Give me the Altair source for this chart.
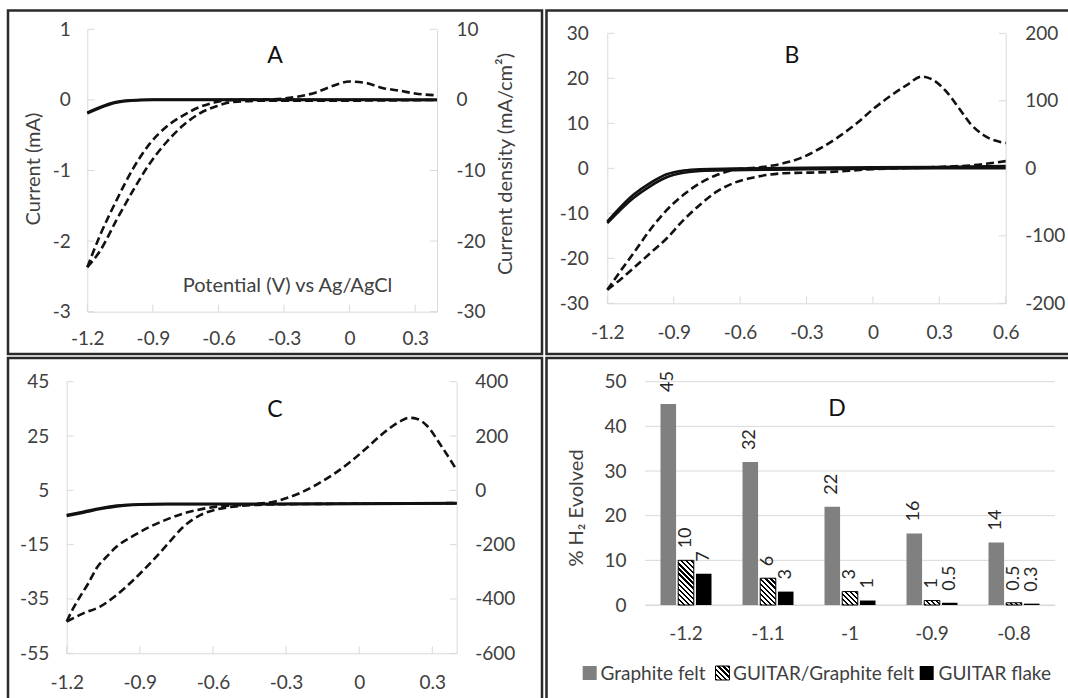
import altair as alt
import pandas as pd

W, H = 1068, 698
FONT = "Lato"
INK = "#111111"
TXT = "#404040"
AXC = "#d9d9d9"
BORDER = "#2a2a2a"
LW = 2.6
DASH = [8, 4]

# ---------------- Panel A (potential V, current mA) ----------------
A_solid_V = [-1.2, -1.14, -1.07, -1.0, -0.9, -0.6, -0.3, 0.0, 0.4]
A_solid_fwd_I = [-0.19, -0.11, -0.04, -0.01, 0.0, 0.0, 0.0, 0.0, 0.0]
A_solid_rev_I = [-0.18, -0.1, -0.03, -0.005, 0.005, 0.005, 0.005, 0.005, 0.0]
A_dash_fwd_V = [-1.2, -1.142, -1.066, -0.99, -0.914, -0.838, -0.761, -0.685, -0.609, -0.533,
                -0.4, -0.3, -0.15, -0.075, 0.0, 0.075, 0.15, 0.23, 0.3, 0.4]
A_dash_fwd_I = [-2.37, -1.92, -1.42, -0.97, -0.62, -0.38, -0.22, -0.1, -0.03, 0.0,
                0.005, 0.02, 0.11, 0.2, 0.26, 0.24, 0.17, 0.13, 0.09, 0.065]
A_dash_rev_V = [-1.2, -1.142, -1.066, -0.99, -0.914, -0.838, -0.761, -0.685, -0.609, -0.533,
                -0.381, 0.0, 0.4]
A_dash_rev_I = [-2.37, -2.14, -1.7, -1.28, -0.9, -0.6, -0.36, -0.19, -0.09, -0.03,
                -0.01, -0.01, 0.0]
A_xticks = [-1.2, -0.9, -0.6, -0.3, 0, 0.3]
A_yticks = [1, 0, -1, -2, -3]
A_y2ticks = [10, 0, -10, -20, -30]

# ---------------- Panel B ----------------
B_solid_V = [-1.2, -1.082, -1.007, -0.932, -0.856, -0.781, -0.631, -0.3, 0.0, 0.3, 0.6]
B_solid_fwd_I = [-11.85, -5.9, -3.3, -1.33, -0.5, -0.2, -0.07, 0.1, 0.2, 0.3, 0.5]
B_solid_rev_I = [-12.2, -6.6, -4.0, -2.0, -1.0, -0.6, -0.4, -0.2, -0.1, 0.0, 0.0]
B_dash_fwd_V = [-1.2, -1.143, -1.082, -1.007, -0.932, -0.856, -0.781, -0.706, -0.631, -0.48,
                -0.405, -0.33, -0.239, -0.149, -0.073, 0.002, 0.077, 0.153, 0.22, 0.273,
                0.333, 0.394, 0.439, 0.499, 0.6]
B_dash_fwd_I = [-27, -23, -18.9, -13.7, -9.3, -5.9, -3.3, -1.5, -0.4, 0.4,
                1.1, 2.2, 4.4, 7.2, 10.0, 13.2, 16.0, 18.5, 20.4, 19.6,
                17.0, 13.0, 10.0, 7.4, 5.6]
B_dash_rev_V = [-1.2, -1.143, -1.082, -1.007, -0.932, -0.856, -0.781, -0.706, -0.631, -0.555,
                -0.48, -0.405, -0.33, -0.239, 0.0, 0.3, 0.454, 0.6]
B_dash_rev_I = [-27, -24.8, -22.2, -18.9, -15.6, -11.5, -8.1, -5.2, -3.3, -2.2,
                -1.5, -1.1, -1.0, -0.9, -0.2, 0.3, 0.7, 1.6]
B_xticks = [-1.2, -0.9, -0.6, -0.3, 0, 0.3, 0.6]
B_yticks = [30, 20, 10, 0, -10, -20, -30]
B_y2ticks = [200, 100, 0, -100, -200]

# ---------------- Panel C ----------------
C_solid_V = [-1.2, -1.132, -1.063, -0.995, -0.9, -0.79, -0.4, 0.0, 0.4]
C_solid_fwd_I = [-4.1, -2.9, -1.6, -0.6, -0.1, 0.0, 0.0, 0.1, 0.3]
C_solid_rev_I = [-4.4, -3.2, -1.9, -0.9, -0.3, -0.1, -0.1, 0.0, 0.2]
C_dash_fwd_V = [-1.2, -1.173, -1.145, -1.111, -1.077, -1.036, -0.995, -0.926, -0.858, -0.789,
                -0.721, -0.652, -0.584, -0.447, -0.351, -0.31, -0.241, -0.173, -0.104, -0.036,
                0.033, 0.101, 0.17, 0.204, 0.238, 0.279, 0.334, 0.4]
C_dash_fwd_I = [-43.3, -38.4, -34.1, -29.2, -23.6, -19.4, -15.7, -11.7, -8.4, -5.7,
                -3.5, -2.0, -1.0, -0.2, 0.8, 1.8, 4.1, 7.2, 11.0, 15.5,
                20.8, 26.2, 30.5, 31.7, 31.3, 28.7, 21.7, 12.5]
C_dash_rev_V = [-1.2, -1.132, -1.063, -0.995, -0.926, -0.858, -0.789, -0.721, -0.652, -0.584,
                -0.515, -0.378, 0.0, 0.4]
C_dash_rev_I = [-43.3, -40.3, -37.8, -33.5, -28.0, -21.9, -15.1, -8.4, -4.1, -2.0,
                -1.0, -0.2, 0.1, 0.3]
C_xticks = [-1.2, -0.9, -0.6, -0.3, 0, 0.3]
C_yticks = [45, 25, 5, -15, -35, -55]
C_y2ticks = [400, 200, 0, -200, -400, -600]

# ---------------- Panel D ----------------
D_cats = ["-1.2", "-1.1", "-1", "-0.9", "-0.8"]
D_series = ["Graphite felt", "GUITAR/Graphite felt", "GUITAR flake"]
D_graphite = [45, 32, 22, 16, 14]
D_guitar_gf = [10, 6, 3, 1, 0.5]
D_flake = [7, 3, 1, 0.5, 0.3]
D_yticks = [0, 10, 20, 30, 40, 50]

one = pd.DataFrame({"d": [0]})


def lin(dom, rng):
    return alt.Scale(domain=dom, range=rng, nice=False, zero=False)


def num_axis(orient, offset, values, pad, **kw):
    align = {"left": "right", "right": "left", "bottom": "center"}[orient]
    opts = dict(orient=orient, offset=offset, values=values,
                labelExpr="datum.value + ''", labelPadding=pad, labelAlign=align,
                labelBaseline="middle", labelFlush=False, labelOverlap=False,
                ticks=False, grid=False, domain=True, domainColor=AXC, domainWidth=1,
                labelAngle=0, title=None)
    opts.update(kw)
    return alt.Axis(**opts)


def cv_frame(branches):
    rows = []
    for name, style, V, I in branches:
        for v, i in zip(V, I):
            rows.append({"V": v, "I": i, "b": name, "s": style})
    return pd.DataFrame(rows)


def cv_layers(frame, geo, xdom, ydom, y2dom, xt, yt, y2t, pads, letter, lxy, titles):
    x0, x1, yb, ytop = geo
    xs = lin(xdom, [x0, x1])
    ys = lin(ydom, [yb, ytop])
    ys2 = lin(y2dom, [yb, ytop])
    out = []
    out.append(alt.Chart(pd.DataFrame({"t": xt})).mark_rule(color=AXC, strokeWidth=1).encode(
        x=alt.X("t:Q", scale=xs,
                axis=num_axis("bottom", yb - H, xt, pads[0], **titles.get("bottom", {}))),
        y=alt.value(yb), y2=alt.value(yb - 7)))
    out.append(alt.Chart(pd.DataFrame({"t": yt})).mark_rule(color=AXC, strokeWidth=1).encode(
        y=alt.Y("t:Q", scale=ys,
                axis=num_axis("left", -x0, yt, pads[1], **titles.get("left", {}))),
        x=alt.value(x0), x2=alt.value(x0 + 7)))
    out.append(alt.Chart(pd.DataFrame({"t": y2t})).mark_rule(color=AXC, strokeWidth=1).encode(
        y=alt.Y("t:Q", scale=ys2,
                axis=num_axis("right", x1 - W, y2t, pads[2], **titles.get("right", {}))),
        x=alt.value(x1 - 7), x2=alt.value(x1)))
    enc = dict(x=alt.X("V:Q", scale=xs, axis=None),
               y=alt.Y("I:Q", scale=ys, axis=None), detail="b:N")
    out.append(alt.Chart(frame).transform_filter("datum.s == 'solid'").mark_line(
        color=INK, strokeWidth=LW, interpolate="monotone").encode(**enc))
    out.append(alt.Chart(frame).transform_filter("datum.s == 'dash'").mark_line(
        color=INK, strokeWidth=LW, strokeDash=DASH, interpolate="monotone").encode(**enc))
    out.append(alt.Chart(one).mark_text(text=letter, font=FONT, fontSize=23, color=INK,
                                        align="center", baseline="middle").encode(
        x=alt.value(lxy[0]), y=alt.value(lxy[1])))
    return out


def hatch(w, h, period=3.6, frac=0.45):
    s = (w + h) / (w * w + h * h)
    n = (w + h) / (2 ** 0.5 * period)
    stops = []
    i = 0
    while i / n < 1:
        a = round(i / n, 4)
        b = round(min((i + frac) / n, 1), 4)
        c = round(min((i + 1) / n, 1), 4)
        stops += [{"offset": a, "color": "#000000"}, {"offset": b, "color": "#000000"},
                  {"offset": b, "color": "#ffffff"}, {"offset": c, "color": "#ffffff"}]
        i += 1
    return alt.LinearGradient(gradient="linear", stops=stops, x1=0, y1=1,
                              x2=round(s * w, 4), y2=round(1 - s * h, 4))


layers = []

# ---- borders of the four panels ----
for bx0, bx1, by0, by1 in [(8, 542, 10.5, 354), (546.5, 1080, 10.5, 354),
                           (8, 542, 358, 710), (546.5, 1080, 358, 710)]:
    layers.append(alt.Chart(one).mark_rect(filled=False, stroke=BORDER, strokeWidth=2.5).encode(
        x=alt.value(bx0), x2=alt.value(bx1), y=alt.value(by0), y2=alt.value(by1)))

# ---- Panel A ----
frameA = cv_frame([("sf", "solid", A_solid_V, A_solid_fwd_I), ("sr", "solid", A_solid_V, A_solid_rev_I),
                   ("df", "dash", A_dash_fwd_V, A_dash_fwd_I), ("dr", "dash", A_dash_rev_V, A_dash_rev_I)])
titlesA = {
    "left": dict(title="Current (mA)", titleX=33.3 - 87.3, titleY=168.5, titleAngle=270,
                 titleAlign="center", titleBaseline="middle"),
    "right": dict(title="Current density (mA/cm²)", titleX=505 - 437, titleY=163.5, titleAngle=270,
                  titleAlign="center", titleBaseline="middle"),
    "bottom": dict(title="Potential (V) vs Ag/AgCl", titleX=287, titleY=285 - 311.7, titleAngle=0,
                   titleAlign="center", titleBaseline="middle"),
}
layers += cv_layers(frameA, (87.3, 437, 311.7, 29.3), [-1.2, 0.4], [-3, 1], [-30, 10],
                    A_xticks, A_yticks, A_y2ticks, (27, 17, 19), "A", (275, 56), titlesA)

# ---- Panel B ----
frameB = cv_frame([("sf", "solid", B_solid_V, B_solid_fwd_I), ("sr", "solid", B_solid_V, B_solid_rev_I),
                   ("df", "dash", B_dash_fwd_V, B_dash_fwd_I), ("dr", "dash", B_dash_rev_V, B_dash_rev_I)])
layers += cv_layers(frameB, (607.3, 1005.7, 303.3, 33.3), [-1.2, 0.6], [-30, 30], [-200, 200],
                    B_xticks, B_yticks, B_y2ticks, (29, 19, 19), "B", (792, 56), {})

# ---- Panel C ----
frameC = cv_frame([("sf", "solid", C_solid_V, C_solid_fwd_I), ("sr", "solid", C_solid_V, C_solid_rev_I),
                   ("df", "dash", C_dash_fwd_V, C_dash_fwd_I), ("dr", "dash", C_dash_rev_V, C_dash_rev_I)])
layers += cv_layers(frameC, (66.7, 456.7, 653.3, 381.7), [-1.2, 0.4], [-55, 45], [-600, 400],
                    C_xticks, C_yticks, C_y2ticks, (29, 18, 18), "C", (275, 410), {})

# ---- Panel D ----
rows = []
for s, vals in zip(D_series, [D_graphite, D_guitar_gf, D_flake]):
    for c, v in zip(D_cats, vals):
        rows.append({"cat": c, "ser": s, "val": v, "lab": f"{v:g}"})
dfD = pd.DataFrame(rows)

DX0, DX1, DYB, DYT = 645, 1055, 605, 381.7
PAD_IN, PAD_OFF = 0.378, 0.12
xsD = alt.Scale(type="band", domain=D_cats, range=[DX0, DX1], paddingInner=PAD_IN, paddingOuter=PAD_IN / 2)
xoD = alt.Scale(type="band", domain=D_series, paddingInner=PAD_OFF, paddingOuter=0)
ysD = alt.Scale(domain=[0, 50], range=[DYB, DYT], nice=False, zero=True)

step = (DX1 - DX0) / len(D_cats)
bw = step * (1 - PAD_IN)
bar_w = bw / (len(D_series) - PAD_OFF) * (1 - PAD_OFF)
px_per_unit = (DYB - DYT) / 50

layers.append(alt.Chart(pd.DataFrame({"t": D_yticks})).mark_rule(color=AXC, strokeWidth=1).encode(
    y=alt.Y("t:Q", scale=ysD, axis=alt.Axis(
        orient="left", offset=-DX0, values=D_yticks, labelPadding=19, labelAlign="right",
        labelBaseline="middle", labelFlush=False, labelOverlap=False, ticks=False, grid=False,
        domain=False, title="% H₂ Evolved", titleX=576.7 - DX0, titleY=507.5, titleAngle=270,
        titleAlign="center", titleBaseline="middle")),
    x=alt.value(DX0), x2=alt.value(DX1)))

layers.append(alt.Chart(dfD).transform_filter("datum.ser == 'Graphite felt'").mark_bar(
    color="#808080").encode(
    x=alt.X("cat:N", scale=xsD, axis=alt.Axis(
        orient="bottom", offset=DYB - H, labelPadding=28, labelAlign="center", labelBaseline="middle",
        labelAngle=0, ticks=False, grid=False, domain=True, domainColor=AXC, title=None)),
    xOffset=alt.XOffset("ser:N", scale=xoD),
    y=alt.Y("val:Q", scale=ysD, axis=None)))

for c, v in zip(D_cats, D_guitar_gf):
    layers.append(alt.Chart(dfD).transform_filter(
        f"datum.ser == 'GUITAR/Graphite felt' && datum.cat == '{c}'").mark_bar(
        fill=hatch(bar_w, v * px_per_unit), stroke="#000000", strokeWidth=1).encode(
        x=alt.X("cat:N", scale=xsD, axis=None),
        xOffset=alt.XOffset("ser:N", scale=xoD),
        y=alt.Y("val:Q", scale=ysD, axis=None)))

layers.append(alt.Chart(dfD).transform_filter("datum.ser == 'GUITAR flake'").mark_bar(
    color="#000000").encode(
    x=alt.X("cat:N", scale=xsD, axis=None),
    xOffset=alt.XOffset("ser:N", scale=xoD),
    y=alt.Y("val:Q", scale=ysD, axis=None)))

layers.append(alt.Chart(dfD).mark_text(angle=270, align="left", baseline="middle", dx=12,
                                       font=FONT, fontSize=18, color="#262626").encode(
    x=alt.X("cat:N", scale=xsD, axis=None),
    xOffset=alt.XOffset("ser:N", scale=xoD),
    y=alt.Y("val:Q", scale=ysD, axis=None),
    text="lab:N"))

layers.append(alt.Chart(one).mark_text(text="D", font=FONT, fontSize=23, color=INK,
                                       align="center", baseline="middle").encode(
    x=alt.value(837), y=alt.value(409)))

# ---- legend of panel D ----
LEG_Y = 673
legend_items = [(582.7, "#808080", None, 600.5), (715.5, None, "hatch", 733), (919.7, "#000000", None, 938.5)]
for (sx, col, kind, tx), name in zip(legend_items, D_series):
    if kind == "hatch":
        mk = alt.Chart(one).mark_rect(fill=hatch(14, 14), stroke="#000000", strokeWidth=1)
    else:
        mk = alt.Chart(one).mark_rect(color=col)
    layers.append(mk.encode(x=alt.value(sx), x2=alt.value(sx + 14),
                            y=alt.value(LEG_Y - 7), y2=alt.value(LEG_Y + 7)))
    layers.append(alt.Chart(one).mark_text(text=name, font=FONT, fontSize=19, color=TXT,
                                           align="left", baseline="middle").encode(
        x=alt.value(tx), y=alt.value(LEG_Y + 1)))

chart = alt.layer(*layers).resolve_scale(
    x="independent", y="independent", xOffset="independent"
).properties(
    width=W, height=H, autosize=alt.AutoSizeParams(type="none"), padding=0, background="white"
).configure_view(strokeWidth=0).configure_axis(
    labelFont=FONT, labelFontSize=19, labelColor=TXT,
    titleFont=FONT, titleFontSize=20, titleColor=TXT, titleFontWeight="normal"
)

chart.save("out.html", embed_options={"renderer": "svg", "actions": False})
